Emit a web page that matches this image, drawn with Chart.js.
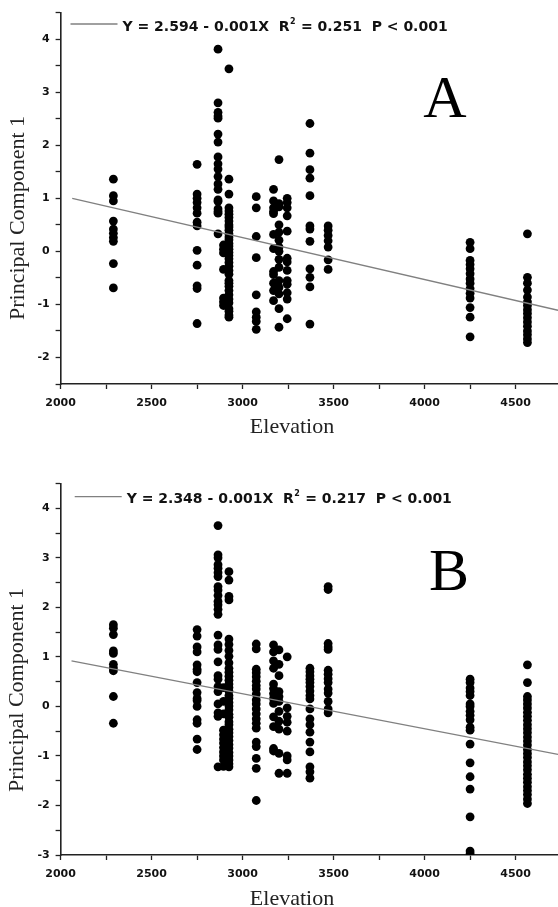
<!DOCTYPE html>
<html>
<head>
<meta charset="utf-8">
<script src="https://cdn.jsdelivr.net/npm/chart.js@4.4.0/dist/chart.umd.min.js"></script>
<style>
  body { margin: 0; background: #fff; width: 558px; height: 907px; overflow: hidden; }
  .panel { position: absolute; left: 0; width: 558px; }
</style>
</head>
<body>
<div class="panel" style="top:0;height:440px"><canvas id="chartA"></canvas></div>
<div class="panel" style="top:440px;height:467px"><canvas id="chartB"></canvas></div>
<script>
// site elevations (x of every column of dots)
const elevation = [2290, 2750, 2865, 2895, 2925, 3075, 3170, 3200, 3245, 3370, 3470, 4250, 4565];

// Principal Component 1 values per site, panel A
const pcA = [
  [1.36, 1.05, 0.95, 0.57, 0.42, 0.34, 0.26, 0.19, -0.23, -0.69],
  [1.64, 1.08, 1.0, 0.92, 0.82, 0.72, 0.55, 0.48, 0.02, -0.26, -0.65, -0.70, -1.36],
  [3.81, 2.80, 2.62, 2.55, 2.51, 2.21, 2.06, 1.78, 1.65, 1.55, 1.41, 1.27, 1.17, 0.97, 0.94, 0.80, 0.75, 0.72, 0.33],
  [0.12, 0.04, -0.03, -0.34, -0.88, -0.95, -1.02],
  [3.44, 1.36, 1.08, 0.82, 0.76, 0.70, 0.64, 0.57, 0.50, 0.46, 0.40, 0.33, 0.27, 0.22, 0.15, 0.10, 0.04, -0.02,
   -0.08, -0.14, -0.21, -0.28, -0.36, -0.43, -0.55, -0.60, -0.66, -0.74, -0.82, -0.90, -0.97, -1.08, -1.13, -1.20, -1.24],
  [1.03, 0.82, 0.28, -0.12, -0.82, -1.14, -1.24, -1.32, -1.47],
  [1.17, 0.95, 0.82, 0.75, 0.71, 0.32, 0.05, -0.38, -0.44, -0.60, -0.74, -0.93],
  [1.73, 0.90, 0.84, 0.50, 0.36, 0.21, 0.08, 0.0, -0.15, -0.30, -0.55, -0.68, -0.80, -1.08, -1.43],
  [1.0, 0.92, 0.82, 0.67, 0.38, -0.13, -0.20, -0.36, -0.55, -0.62, -0.78, -0.90, -1.27],
  [2.41, 1.85, 1.54, 1.38, 1.05, 0.48, 0.42, 0.19, -0.33, -0.49, -0.67, -1.37],
  [0.48, 0.40, 0.30, 0.20, 0.08, -0.16, -0.34],
  [0.17, 0.05, -0.17, -0.25, -0.33, -0.42, -0.52, -0.60, -0.70, -0.79, -0.88, -1.06, -1.24, -1.61],
  [0.33, -0.49, -0.60, -0.73, -0.86, -0.95, -1.02, -1.10, -1.17, -1.25, -1.33, -1.41, -1.50, -1.57, -1.65, -1.72]
];

// panel B
const pcB = [
  [1.65, 1.58, 1.45, 1.12, 1.07, 0.85, 0.78, 0.72, 0.20, -0.34],
  [1.55, 1.42, 1.20, 1.10, 0.84, 0.75, 0.70, 0.48, 0.28, 0.16, 0.12, 0.0, -0.27, -0.34, -0.66, -0.87],
  [3.65, 3.06, 3.0, 2.86, 2.79, 2.70, 2.62, 2.42, 2.35, 2.24, 2.12, 2.05, 1.96, 1.86, 1.44, 1.24, 1.15, 0.90,
   0.62, 0.55, 0.40, 0.30, 0.05, -0.13, -0.20, -1.22],
  [0.38, 0.10, -0.15, -0.48, -0.57, -0.66, -0.74, -0.83, -0.92, -1.0, -1.08, -1.21],
  [2.72, 2.55, 2.22, 2.15, 1.36, 1.25, 1.13, 1.01, 0.88, 0.77, 0.69, 0.61, 0.53, 0.45, 0.38, 0.31, 0.22, 0.16,
   0.08, 0.01, -0.07, -0.16, -0.22, -0.31, -0.37, -0.46, -0.53, -0.61, -0.69, -0.77, -0.84, -0.93, -1.0, -1.08, -1.16, -1.22],
  [1.26, 1.16, 0.75, 0.68, 0.60, 0.51, 0.42, 0.35, 0.25, 0.13, 0.05, -0.05, -0.15, -0.25, -0.34, -0.44, -0.72, -0.81, -1.05, -1.25, -1.90],
  [1.24, 1.10, 0.92, 0.77, 0.45, 0.36, 0.26, 0.16, 0.06, -0.21, -0.41, -0.85, -0.90],
  [1.14, 0.85, 0.62, 0.30, 0.20, 0.10, -0.10, -0.30, -0.46, -0.95, -1.35],
  [1.0, -0.03, -0.20, -0.32, -0.50, -1.0, -1.08, -1.35],
  [0.77, 0.70, 0.62, 0.55, 0.48, 0.40, 0.31, 0.22, 0.15, -0.05, -0.25, -0.37, -0.52, -0.72, -0.92, -1.22, -1.32, -1.45],
  [2.42, 2.36, 1.27, 1.20, 1.15, 0.73, 0.65, 0.56, 0.48, 0.35, 0.27, 0.10, -0.05, -0.13],
  [0.55, 0.48, 0.37, 0.30, 0.22, 0.05, 0.0, -0.10, -0.18, -0.27, -0.42, -0.48, -0.76, -1.14, -1.42, -1.67, -2.23, -2.92, -2.97],
  [0.84, 0.48, 0.20, 0.13, 0.05, -0.03, -0.12, -0.20, -0.28, -0.37, -0.45, -0.53, -0.62, -0.70, -0.78, -0.87, -0.95,
   -1.03, -1.12, -1.20, -1.28, -1.37, -1.45, -1.53, -1.62, -1.70, -1.78, -1.87, -1.96]
];

// fitted lines, ends
const fitAx = [2064, 4733];
const fitAy = [1.0, -1.11];
const fitBx = [2060, 4733];
const fitBy = [0.92, -0.97];

const xTicks = [2000, 2500, 3000, 3500, 4000, 4500];
const yTicksA = [-2, -1, 0, 1, 2, 3, 4];
const yTicksB = [-3, -2, -1, 0, 1, 2, 3, 4];

const eqA = ['Y = 2.594 - 0.001X  R', '2', ' = 0.251  P < 0.001'];
const eqB = ['Y = 2.348 - 0.001X  R', '2', ' = 0.217  P < 0.001'];

const sansBold = '"DejaVu Sans", Verdana, sans-serif';
const serif = '"Liberation Serif", "Times New Roman", serif';

function toPoints(groups) {
  let pts = [];
  groups.forEach((vals, i) => {
    vals.forEach(v => pts.push({x: elevation[i], y: v}));
  });
  return pts;
}

// draws equation legend, panel letter and axis titles
const textPlugin = {
  id: 'panelText',
  afterDraw(chart, args, o) {
    const ctx = chart.ctx;
    ctx.save();
    // legend line
    ctx.strokeStyle = '#808080';
    ctx.lineWidth = 1.3;
    ctx.beginPath();
    ctx.moveTo(o.legX, o.legY);
    ctx.lineTo(o.legX + 47, o.legY);
    ctx.stroke();
    ctx.fillStyle = '#111';
    ctx.textBaseline = 'alphabetic';
    ctx.textAlign = 'left';
    ctx.font = 'bold 14px ' + sansBold;
    let x = o.legX + 52;
    let y = o.legY + 6.5;
    ctx.fillText(o.eq[0], x, y);
    x += ctx.measureText(o.eq[0]).width;
    ctx.font = 'bold 8px ' + sansBold;
    ctx.fillText(o.eq[1], x + 0.5, y - 7);
    x += ctx.measureText(o.eq[1]).width + 1;
    ctx.font = 'bold 14px ' + sansBold;
    ctx.fillText(o.eq[2], x, y);

    // panel letter
    ctx.font = '60px ' + serif;
    ctx.textAlign = 'center';
    ctx.fillStyle = '#000';
    ctx.fillText(o.letter, o.letX, o.letY);

    // axis titles
    ctx.font = '22px ' + serif;
    ctx.fillStyle = '#222';
    ctx.fillText('Elevation', 292, o.xTitleY);
    ctx.translate(o.yTitleX, o.yTitleY);
    ctx.rotate(-Math.PI / 2);
    ctx.textBaseline = 'middle';
    ctx.fillText('Principal Component 1', 0, 0);
    ctx.restore();
  }
};

function makeChart(id, groups, fx, fy, yMin, yTicks, xAxisH, topPad, texts) {
  const minorX = [];
  for (let v = 2000; v <= 4500; v += 250) minorX.push(v);
  const minorY = [];
  for (let v = yMin; v <= 4.5; v += 0.5) minorY.push(v);

  return new Chart(document.getElementById(id), {
    type: 'scatter',
    data: {
      datasets: [{
        data: fx.map((v, i) => ({x: v, y: fy[i]})),
        type: 'line',
        borderColor: '#808080',
        borderWidth: 1.3,
        pointRadius: 0,
        order: 0
      }, {
        data: toPoints(groups),
        pointRadius: 4.4,
        pointBackgroundColor: '#000',
        pointBorderWidth: 0,
        order: 1
      }]
    },
    options: {
      responsive: true,
      maintainAspectRatio: false,
      animation: false,
      layout: {autoPadding: false, padding: {top: topPad, right: 0, left: 0, bottom: 0}},
      plugins: {
        legend: {display: false},
        tooltip: {enabled: false},
        panelText: texts
      },
      scales: {
        x: {
          type: 'linear',
          min: 2000,
          max: 4733,
          afterBuildTicks: s => { s.ticks = minorX.map(v => ({value: v})); },
          afterFit: s => { s.height = xAxisH; },
          grid: {drawOnChartArea: false, drawTicks: true, tickLength: 5, color: '#222', tickWidth: 1.3},
          border: {display: true, color: '#222', width: 1.6},
          ticks: {
            autoSkip: false,
            maxRotation: 0,
            padding: 8,
            color: '#111',
            font: {family: sansBold, size: 11, weight: 'bold'},
            callback: v => xTicks.includes(v) ? String(v) : ''
          }
        },
        y: {
          type: 'linear',
          min: yMin,
          max: 4.5,
          afterBuildTicks: s => { s.ticks = minorY.map(v => ({value: v})); },
          afterFit: s => { s.width = 60.6; },
          grid: {drawOnChartArea: false, drawTicks: true, tickLength: 5, color: '#222', tickWidth: 1.3},
          border: {display: true, color: '#222', width: 1.6},
          ticks: {
            autoSkip: false,
            padding: 6,
            color: '#111',
            font: {family: sansBold, size: 11, weight: 'bold'},
            callback: v => yTicks.includes(v) ? String(v) : ''
          }
        }
      }
    },
    plugins: [textPlugin]
  });
}

makeChart('chartA', pcA, fitAx, fitAy, -2.5, yTicksA, 56, 10.3, {
  eq: eqA, legX: 70.5, legY: 24, letter: 'A', letX: 445, letY: 117,
  xTitleY: 433, yTitleX: 18, yTitleY: 218
});
makeChart('chartB', pcB, fitBx, fitBy, -3, yTicksB, 52, 43.5, {
  eq: eqB, legX: 74.7, legY: 56.7, letter: 'B', letX: 449, letY: 150,
  xTitleY: 465, yTitleX: 17, yTitleY: 250
});
</script>
</body>
</html>
